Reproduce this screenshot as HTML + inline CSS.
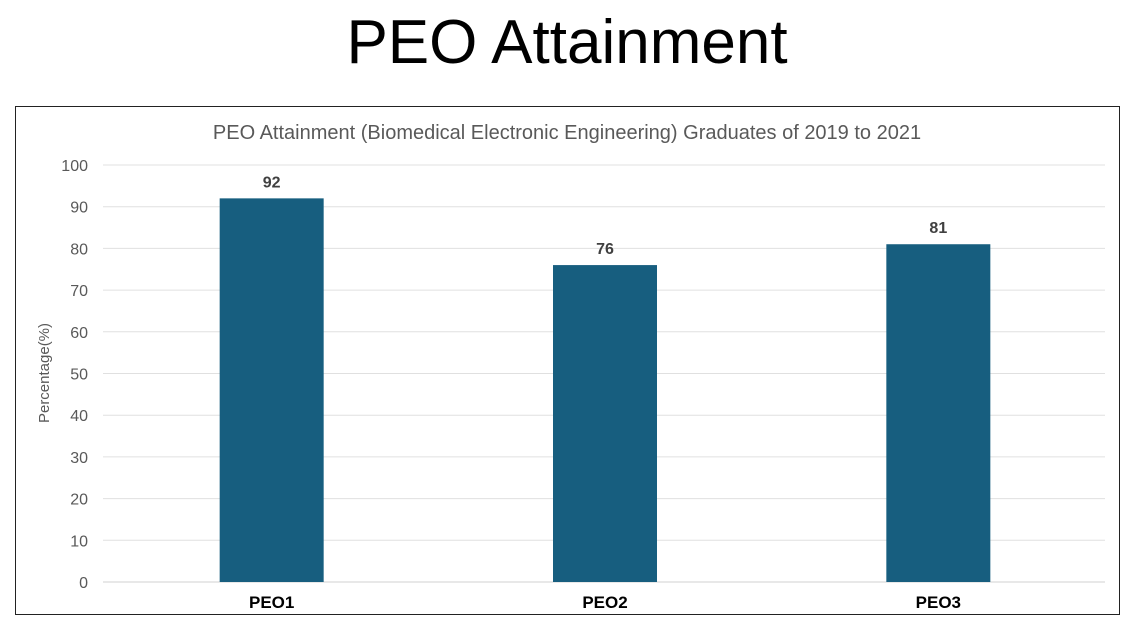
<!DOCTYPE html>
<html><head><meta charset="utf-8"><style>
body{margin:0;background:#fff;font-family:"Liberation Sans",sans-serif;}
</style></head><body>
<svg width="1135" height="635" xmlns="http://www.w3.org/2000/svg">
<text x="567" y="63" text-anchor="middle" font-size="62" fill="#000" font-family="Liberation Sans">PEO Attainment</text>
<rect x="15.5" y="106.5" width="1104" height="508" fill="#fff" stroke="#222" stroke-width="1"/>
<text x="567" y="139" text-anchor="middle" font-size="20" fill="#595959" font-family="Liberation Sans">PEO Attainment (Biomedical Electronic Engineering) Graduates of 2019 to 2021</text>
<text transform="translate(49,373) rotate(-90)" text-anchor="middle" font-size="15" fill="#595959" font-family="Liberation Sans">Percentage(%)</text>
<g id="grid"></g><g id="bars"></g>
</svg>
<script>
const categories=["PEO1","PEO2","PEO3"];
const values=[92,76,81];
const ticks=[0,10,20,30,40,50,60,70,80,90,100];
const NS="http://www.w3.org/2000/svg";
const x0=105,x1=1105,yBase=582,yTop=165;
const y=v=>yBase-(v/100)*(yBase-yTop);
const band=(x1-x0)/categories.length;
const xc=i=>x0+band*(i+0.5);
const grid=document.getElementById('grid'),bars=document.getElementById('bars');
function mk(t,a,p){const e=document.createElementNS(NS,t);for(const k in a)e.setAttribute(k,a[k]);p.appendChild(e);return e;}
ticks.forEach(t=>{
 const l=mk('line',{x1:x0-2,x2:x1,y1:y(t),y2:y(t),stroke:t===0?'#d0d0d0':'#e0e0e0','stroke-width':1},grid);
 
 
 const tx=mk('text',{x:88,y:y(t)+6,'text-anchor':'end','font-size':16,fill:'#595959'},grid);
 tx.textContent=t;
 
 
});
const bw=104;
categories.forEach((c,i)=>{
 const v=values[i];
 const r=mk('rect',{x:xc(i)-bw/2,y:y(v),width:bw,height:yBase-y(v),fill:'#175E7F'},bars);
 
 
 const lb=mk('text',{x:xc(i),y:y(v)-11,'text-anchor':'middle','font-size':16,'font-weight':'bold',fill:'#404040'},bars);
 lb.textContent=v;
 
 
 const cl=mk('text',{x:xc(i),y:608,'text-anchor':'middle','font-size':17,'font-weight':'bold',fill:'#000'},bars);
 cl.textContent=c;
 
 
});
</script>
</body></html>
